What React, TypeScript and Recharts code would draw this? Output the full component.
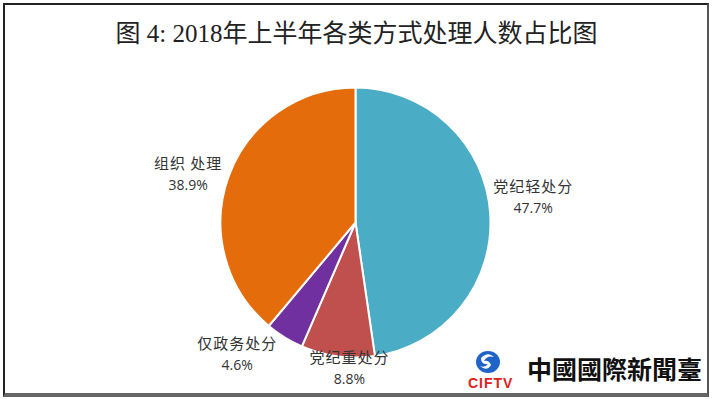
import React from 'react';
import { PieChart, Pie, Cell } from 'recharts';

const categories = ['党纪轻处分', '党纪重处分', '仅政务处分', '组织处理'];
const labelNames = ['党纪轻处分', '党纪重处分', '仅政务处分', '组织 处理'];
const shares = [47.7, 8.8, 4.6, 38.9];
const colors = ['#4BACC6', '#C0504D', '#7030A0', '#E46C0A'];

// label nudges: radius factor and extra angle in degrees
const LABEL_PLACE = [
  { r: 1.33, da: 4.0 },
  { r: 1.08, da: 5.2 },
  { r: 1.31, da: -10.3 },
  { r: 1.29, da: 3.9 },
];

const data = categories.map((name, i) => ({ name, value: shares[i] }));

const RAD = Math.PI / 180;

const renderLabel = (props: any) => {
  const { cx, cy, midAngle, outerRadius, index, value } = props;
  const place = LABEL_PLACE[index];
  const a = (midAngle + place.da) * RAD;
  const r = outerRadius * place.r;
  const x = cx + r * Math.cos(a);
  const y = cy - r * Math.sin(a);
  return (
    <g>
      <text
        x={x}
        y={y - 5}
        textAnchor="middle"
        fill="#333"
        fontSize={15}
        letterSpacing={1}
        fontFamily="'Noto Sans CJK SC', sans-serif"
      >
        {labelNames[index]}
      </text>
      <text x={x} y={y + 16} textAnchor="middle" fill="#333" fontSize={14} fontFamily="'Open Sans', 'Noto Sans', sans-serif">
        {value.toFixed(1)}%
      </text>
    </g>
  );
};

const App: React.FC = () => {
  return (
    <div style={{ position: 'fixed', left: 0, top: 0, width: 713, height: 399, background: '#fff' }}>
      <div
        style={{
          position: 'absolute',
          left: 3,
          top: 3,
          width: 702,
          height: 388,
          borderLeft: '2px solid #222',
          borderTop: '2px solid #222',
          borderRight: '2px solid #555',
          borderBottom: '4px solid #666',
        }}
      />
      <div
        style={{
          position: 'absolute',
          left: 0,
          top: 13,
          width: 713,
          textAlign: 'center',
          fontFamily: "'Liberation Serif', 'Noto Sans CJK SC', serif",
          fontSize: 25,
          color: '#222',
        }}
      >
        图 4: 2018年上半年各类方式处理人数占比图
      </div>
      <PieChart
        width={713}
        height={399}
        margin={{ top: 0, right: 0, bottom: 0, left: 0 }}
        style={{ position: 'absolute', left: 0, top: 0 }}
      >
        <Pie
          data={data}
          dataKey="value"
          nameKey="name"
          cx={355.5}
          cy={222.5}
          outerRadius={135}
          startAngle={90}
          endAngle={-270}
          stroke="#fff"
          strokeWidth={2}
          label={renderLabel}
          labelLine={false}
          isAnimationActive={false}
        >
          {data.map((d, i) => (
            <Cell key={d.name} fill={colors[i]} />
          ))}
        </Pie>
      </PieChart>
      <svg width={62} height={42} style={{ position: 'absolute', left: 466, top: 349 }}>
        <ellipse cx={22} cy={13} rx={12} ry={11} fill="#1E64C8" />
        <path d="M15 9 Q22 2 28 8 Q21 6 18 12 Q23 11 25 16 Q21 23 14 17 Q19 19 22 15 Q15 16 15 9 Z" fill="#fff" />
        <text x={2} y={39} fill="#E02020" fontSize={14} fontWeight="bold" letterSpacing={1} fontFamily="'Liberation Sans', sans-serif">
          CIFTV
        </text>
      </svg>
      <div
        style={{
          position: 'absolute',
          left: 527,
          top: 350,
          fontFamily: "'Noto Sans CJK TC', sans-serif",
          fontWeight: 'bold',
          fontSize: 25,
          color: '#111',
          whiteSpace: 'nowrap',
        }}
      >
        中國國際新聞臺
      </div>
    </div>
  );
};

export default App;
